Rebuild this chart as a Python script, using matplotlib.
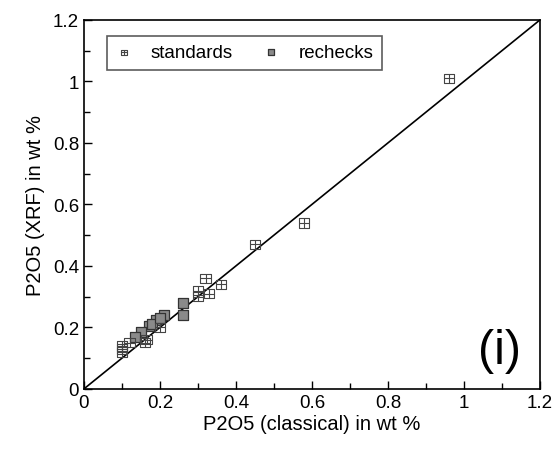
import numpy as np
import matplotlib
matplotlib.use("Agg")
import matplotlib.pyplot as plt
from matplotlib.path import Path
from matplotlib.ticker import MultipleLocator

plt.rcParams['font.family'] = ['Liberation Sans', 'DejaVu Sans']

# data (wt %)
standards_x = [0.96, 0.58, 0.45, 0.32, 0.36, 0.30, 0.33, 0.30, 0.20, 0.165, 0.16, 0.12, 0.10, 0.10, 0.10]
standards_y = [1.01, 0.54, 0.47, 0.36, 0.34, 0.32, 0.31, 0.30, 0.20, 0.16, 0.15, 0.15, 0.14, 0.13, 0.12]
rechecks_x = [0.26, 0.26, 0.21, 0.19, 0.17, 0.15, 0.135, 0.18, 0.20]
rechecks_y = [0.28, 0.24, 0.24, 0.225, 0.205, 0.185, 0.17, 0.21, 0.23]

# square with a cross inside
verts = [(-1.1, -1), (1.1, -1), (1.1, 1), (-1.1, 1), (-1.1, -1),
         (0, -1), (0, 1), (-1.1, 0), (1.1, 0)]
codes = [Path.MOVETO, Path.LINETO, Path.LINETO, Path.LINETO, Path.CLOSEPOLY,
         Path.MOVETO, Path.LINETO, Path.MOVETO, Path.LINETO]
grid_sq = Path(verts, codes)

fig = plt.figure(figsize=(5.56, 4.56), dpi=100)
ax = fig.add_axes([0.151, 0.145, 0.82, 0.809])

ax.plot([0, 1.2], [0, 1.2], color='black', lw=1.2, zorder=1)
ax.scatter(standards_x, standards_y, marker=grid_sq, s=55, facecolors='none',
           edgecolors='#444444', linewidths=0.8, label='standards', zorder=3)
ax.scatter(rechecks_x, rechecks_y, marker='s', s=60, facecolors='#8a8a8a',
           edgecolors='#333333', linewidths=0.9, label='rechecks', zorder=2)

ax.set_xlim(0, 1.2)
ax.set_ylim(0, 1.2)
ax.xaxis.set_major_locator(MultipleLocator(0.2))
ax.yaxis.set_major_locator(MultipleLocator(0.2))
ax.xaxis.set_minor_locator(MultipleLocator(0.1))
ax.yaxis.set_minor_locator(MultipleLocator(0.1))
ax.tick_params(which='both', direction='in', top=False, right=False, labelsize=13.5)
ax.tick_params(which='major', length=6, width=1)
ax.tick_params(which='minor', length=4, width=1)
ax.xaxis.set_major_formatter(plt.FuncFormatter(lambda v, p: f'{v:g}'))
ax.yaxis.set_major_formatter(plt.FuncFormatter(lambda v, p: f'{v:g}'))
for s in ax.spines.values():
    s.set_linewidth(1.2)

ax.set_xlabel('P2O5 (classical) in wt %', fontsize=14.5, labelpad=2)
ax.set_ylabel('P2O5 (XRF) in wt %', fontsize=14.5, labelpad=6)

leg = ax.legend(loc='upper left', bbox_to_anchor=(0.05, 0.957), borderaxespad=0,
                ncol=2, fontsize=13.5, frameon=True, fancybox=False, edgecolor='#333333',
                borderpad=0.45, columnspacing=1.6, handletextpad=1.0, handlelength=0.9,
                markerscale=0.6)
leg.get_frame().set_linewidth(1.2)

ax.text(1.095, 0.125, '(i)', fontsize=35, ha='center', va='center')

fig.savefig('out.png', dpi=100)
